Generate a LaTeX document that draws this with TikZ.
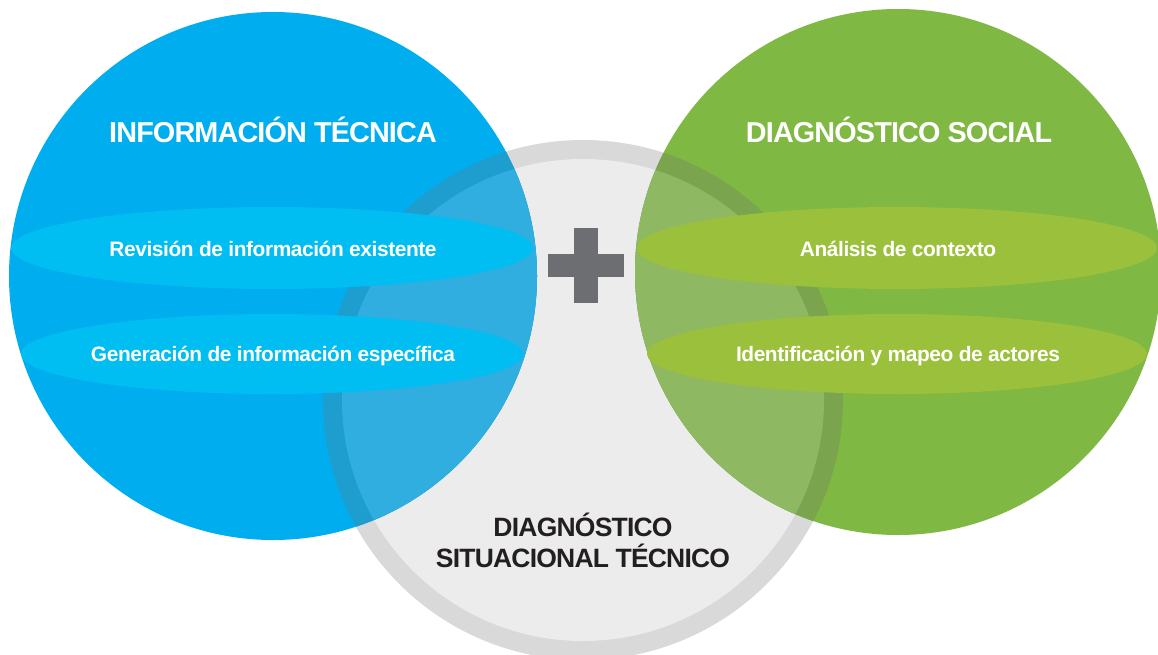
\documentclass[tikz,border=0pt]{standalone}
\usepackage{fontspec}
\setmainfont{Liberation Sans}
\definecolor{cblue}{HTML}{00AEEF}
\definecolor{cblueel}{HTML}{00BDF2}
\definecolor{cblueg}{HTML}{31AEE0}
\definecolor{cbluer}{HTML}{1E9DCF}
\definecolor{cgreen}{HTML}{7FB842}
\definecolor{cgreenel}{HTML}{9BC03C}
\definecolor{cgreeng}{HTML}{8EB862}
\definecolor{cgreenr}{HTML}{7BA44E}
\definecolor{cring}{HTML}{D9D9D9}
\definecolor{cinner}{HTML}{ECECEC}
\definecolor{cplus}{HTML}{6D6E72}
\definecolor{cdark}{HTML}{231F20}
\tikzset{
  title/.style={text=white, inner sep=0pt, font=\fontsize{28.8}{30}\selectfont\bfseries\addfontfeatures{LetterSpace=-3}},
  item/.style={text=white, inner sep=0pt, font=\fontsize{20.9}{22}\selectfont\bfseries\addfontfeatures{LetterSpace=-2}},
  centre/.style={text=cdark, inner sep=0pt, align=center, font=\fontsize{26.5}{31}\selectfont\bfseries\addfontfeatures{LetterSpace=-3}}
}
\begin{document}
\begin{tikzpicture}[x=1pt,y=-1pt]
\useasboundingbox (0,0) rectangle (1158,655);
\clip (0,0) rectangle (1158,655);
% gray circle
\fill[cring] (583,400) circle (260);
\fill[cinner] (583,400) circle (241);
% main circles
\fill[cblue] (273,276) circle (264);
\fill[cgreen] (898,272) circle (263);
% overlaps
\begin{scope}
  \clip (273,276) circle (264);
  \fill[cbluer] (583,400) circle (260);
  \fill[cblueg] (583,400) circle (241);
\end{scope}
\begin{scope}
  \clip (898,272) circle (263);
  \fill[cgreenr] (583,400) circle (260);
  \fill[cgreeng] (583,400) circle (241);
\end{scope}
% ellipses
\fill[cblueel] (272,248) ellipse [x radius=261, y radius=41];
\fill[cblueel] (272,354) ellipse [x radius=251, y radius=40];
\fill[cgreenel] (897,248) ellipse [x radius=260, y radius=41];
\fill[cgreenel] (897,354) ellipse [x radius=250, y radius=40];
% plus
\fill[cplus] (574,228) rectangle (598,303);
\fill[cplus] (548,254) rectangle (624,277);
% texts
\node[title] (t1) at (273,130) {INFORMACIÓN TÉCNICA};
\node[title] (t2) at (899,130) {DIAGNÓSTICO SOCIAL};
\node[item] (a1) at (273,249) {Revisión de información existente};
\node[item] (a2) at (273,356) {Generación de información específica};
\node[item] (b1) at (898,249) {Análisis de contexto};
\node[item] (b2) at (898,356) {Identificación y mapeo de actores};
\node[centre] (c) at (583,540) {DIAGNÓSTICO\\SITUACIONAL TÉCNICO};
\end{tikzpicture}
\end{document}
